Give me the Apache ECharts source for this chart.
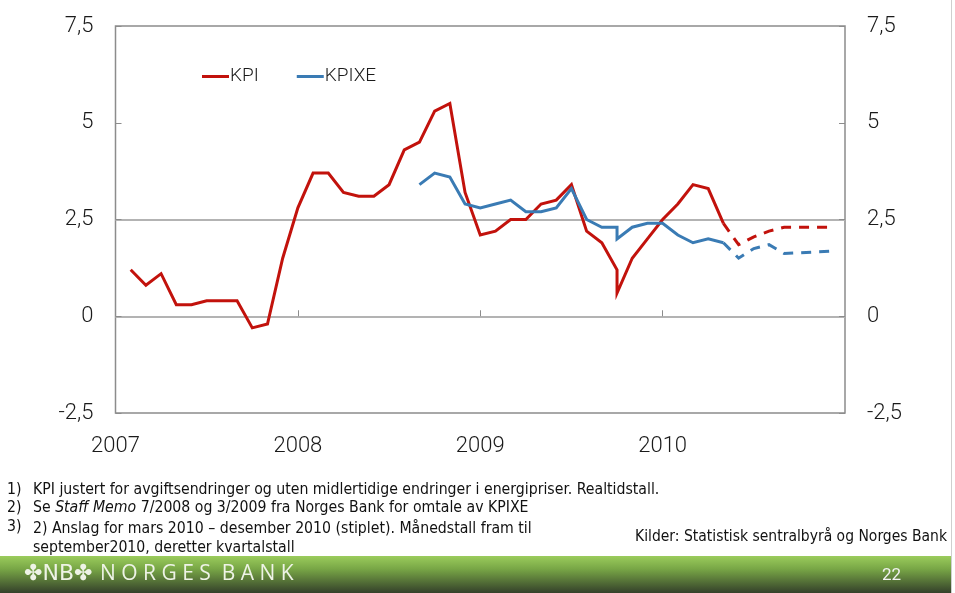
<!DOCTYPE html>
<html>
<head>
<meta charset="utf-8">
<script src="https://cdn.jsdelivr.net/npm/echarts@6/dist/echarts.min.js"></script>
<style>
  html, body { margin: 0; padding: 0; background: #fff; }
  #chart { width: 955px; height: 593px; }
</style>
</head>
<body>
<div id="chart"></div>
<script>
/*
 * Data: month index counted from January 2007 (0 = start of 2007)
 */
var yearLabels = ['2007', '2008', '2009', '2010'];

var kpiMonths = [1, 2, 3, 4, 5, 6, 7, 8, 9, 10, 11, 12, 13, 14, 15, 16, 17, 18, 19, 20,
                 21, 22, 23, 24, 25, 26, 27, 28, 29, 30, 31, 32, 33, 33, 34, 35, 36, 37, 38, 39, 40];
var kpiValues = [1.2, 0.8, 1.1, 0.3, 0.3, 0.4, 0.4, 0.4, -0.3, -0.2, 1.5, 2.8, 3.7, 3.7, 3.2, 3.1, 3.1, 3.4, 4.3, 4.5,
                 5.3, 5.5, 3.2, 2.1, 2.2, 2.5, 2.5, 2.9, 3.0, 3.4, 2.2, 1.9, 1.2, 0.6, 1.5, 2.0, 2.5, 2.9, 3.4, 3.3, 2.4];

var kpiFcMonths = [40, 41, 42, 43, 44, 47];
var kpiFcValues = [2.4, 1.85, 2.05, 2.2, 2.3, 2.3];

var kpixeMonths = [20, 21, 22, 23, 24, 25, 26, 27, 28, 29, 30, 31, 32, 33, 33, 34, 35, 36, 37, 38, 39, 40];
var kpixeValues = [3.4, 3.7, 3.6, 2.9, 2.8, 2.9, 3.0, 2.7, 2.7, 2.8, 3.3, 2.5, 2.3, 2.3, 2.0, 2.3, 2.4, 2.4, 2.1, 1.9, 2.0, 1.9];

var kpixeFcMonths = [40, 41, 42, 43, 44, 47];
var kpixeFcValues = [1.9, 1.5, 1.75, 1.85, 1.62, 1.68];

var RED = '#c2120c';
var BLUE = '#3a7bb4';
var FONT = 'Roboto, "Liberation Sans", sans-serif';
var NARROW = '"Liberation Sans Narrow", "DejaVu Sans Condensed", sans-serif';
var NOTE_FONT = '15.7px ' + NARROW;

function pairs(xs, ys) {
    var out = [];
    for (var n = 0; n < xs.length; n++) {
        out.push([xs[n], ys[n]]);
    }
    return out;
}

function yLabel(v) {
    return String(v).replace('.', ',');
}

function xLabel(v) {
    var idx = v / 12;
    return idx < yearLabels.length ? yearLabels[idx] : '';
}

var chart = echarts.init(document.getElementById('chart'));

var lineSeries = function(name, data, color, dashed) {
    return {
        name: name,
        type: 'line',
        data: data,
        symbol: 'none',
        silent: true,
        animation: false,
        lineStyle: {
            color: color,
            width: 3,
            type: dashed ? [10, 8] : 'solid',
            cap: 'butt',
            join: 'miter'
        },
        itemStyle: { color: color }
    };
};

var yAxisBase = function(pos, showSplit) {
    return {
        type: 'value',
        position: pos,
        min: -2.5,
        max: 7.5,
        interval: 2.5,
        axisLine: { show: false },
        axisTick: { show: true, inside: true, length: 6, lineStyle: { color: '#8c8c8c', width: 1 } },
        axisLabel: {
            formatter: yLabel,
            fontFamily: FONT,
            fontWeight: 300,
            fontSize: 22,
            color: '#1a1a1a',
            margin: 22
        },
        splitLine: {
            show: showSplit,
            lineStyle: {
                // only 0 and 2,5 get a gridline
                color: ['rgba(0,0,0,0)', '#b3b3b3', '#b3b3b3', 'rgba(0,0,0,0)', 'rgba(0,0,0,0)'],
                width: 2
            }
        }
    };
};

var option = {
    animation: false,
    backgroundColor: '#ffffff',
    grid: {
        left: 115.5,
        right: 110,
        top: 26,
        bottom: 180,
        show: true,
        borderColor: '#8c8c8c',
        borderWidth: 1.5,
        backgroundColor: 'transparent'
    },
    legend: {
        data: ['KPI', 'KPIXE'],
        left: 197,
        top: 62,
        icon: 'rect',
        itemWidth: 27,
        itemHeight: 3,
        itemGap: 38,
        selectedMode: false,
        textStyle: { fontFamily: FONT, fontWeight: 300, fontSize: 19, color: '#1a1a1a', padding: [0, 0, 0, -4] }
    },
    xAxis: {
        type: 'value',
        min: 0,
        max: 48,
        interval: 12,
        axisLine: { show: false },
        axisTick: { show: true, inside: true, length: 6, lineStyle: { color: '#8c8c8c', width: 1 } },
        splitLine: { show: false },
        axisLabel: {
            formatter: xLabel,
            fontFamily: FONT,
            fontWeight: 300,
            fontSize: 22,
            color: '#1a1a1a',
            margin: 22,
            showMaxLabel: false
        }
    },
    yAxis: [yAxisBase('left', true), yAxisBase('right', false)],
    series: [
        lineSeries('KPI', pairs(kpiMonths, kpiValues), RED, false),
        lineSeries('KPI anslag', pairs(kpiFcMonths, kpiFcValues), RED, true),
        lineSeries('KPIXE', pairs(kpixeMonths, kpixeValues), BLUE, false),
        lineSeries('KPIXE anslag', pairs(kpixeFcMonths, kpixeFcValues), BLUE, true)
    ],
    graphic: [
        // footnotes
        {
            type: 'text', left: 7, top: 482,
            style: { text: '1)', font: NOTE_FONT, fill: '#111' }
        },
        {
            type: 'text', left: 33, top: 482,
            style: { text: 'KPI justert for avgiftsendringer og uten midlertidige endringer i energipriser. Realtidstall.', font: NOTE_FONT, fill: '#111' }
        },
        {
            type: 'text', left: 7, top: 500,
            style: { text: '2)', font: NOTE_FONT, fill: '#111' }
        },
        {
            type: 'text', left: 33, top: 500,
            style: {
                text: 'Se {i|Staff Memo} 7/2008 og 3/2009 fra Norges Bank for omtale av KPIXE',
                font: NOTE_FONT, fill: '#111',
                rich: { i: { fontStyle: 'italic', fontSize: 15.7, fontFamily: NARROW, fill: '#111' } }
            }
        },
        {
            type: 'text', left: 7, top: 519,
            style: { text: '3)', font: NOTE_FONT, fill: '#111' }
        },
        {
            type: 'text', left: 33, top: 519,
            style: { text: '2) Anslag for mars 2010 \u2013 desember 2010 (stiplet). M\u00e5nedstall fram til\nseptember2010, deretter kvartalstall', font: NOTE_FONT, fill: '#111', lineHeight: 19 }
        },
        {
            type: 'text', right: 8, top: 529,
            style: { text: 'Kilder: Statistisk sentralbyr\u00e5 og Norges Bank', font: '15.5px ' + NARROW, fill: '#111' }
        },
        // green footer band
        {
            type: 'rect', left: 0, top: 556, z: -1,
            shape: { width: 952, height: 37 },
            style: {
                fill: new echarts.graphic.LinearGradient(0, 0, 0, 1, [
                    { offset: 0, color: '#9bcc5c' },
                    { offset: 0.35, color: '#78a646' },
                    { offset: 1, color: '#34402a' }
                ])
            }
        },
        {
            type: 'text', left: 24, top: 563,
            style: { text: '\u2724NB\u2724', font: '22px "DejaVu Sans", sans-serif', fill: '#eef3e6' }
        },
        {
            type: 'text', left: 100, top: 564,
            style: { text: 'N O R G E S  B A N K', font: '21px "Open Sans", "DejaVu Sans", sans-serif', fill: '#eef3e6' }
        },
        {
            type: 'text', left: 882, top: 567,
            style: { text: '22', font: '17px ' + FONT, fill: '#f2f2f2' }
        },
        // slide edge
        {
            type: 'rect', left: 951, top: 0,
            shape: { width: 1, height: 593 },
            style: { fill: '#cfcfcf' }
        }
    ]
};

chart.setOption(option);
</script>
</body>
</html>
